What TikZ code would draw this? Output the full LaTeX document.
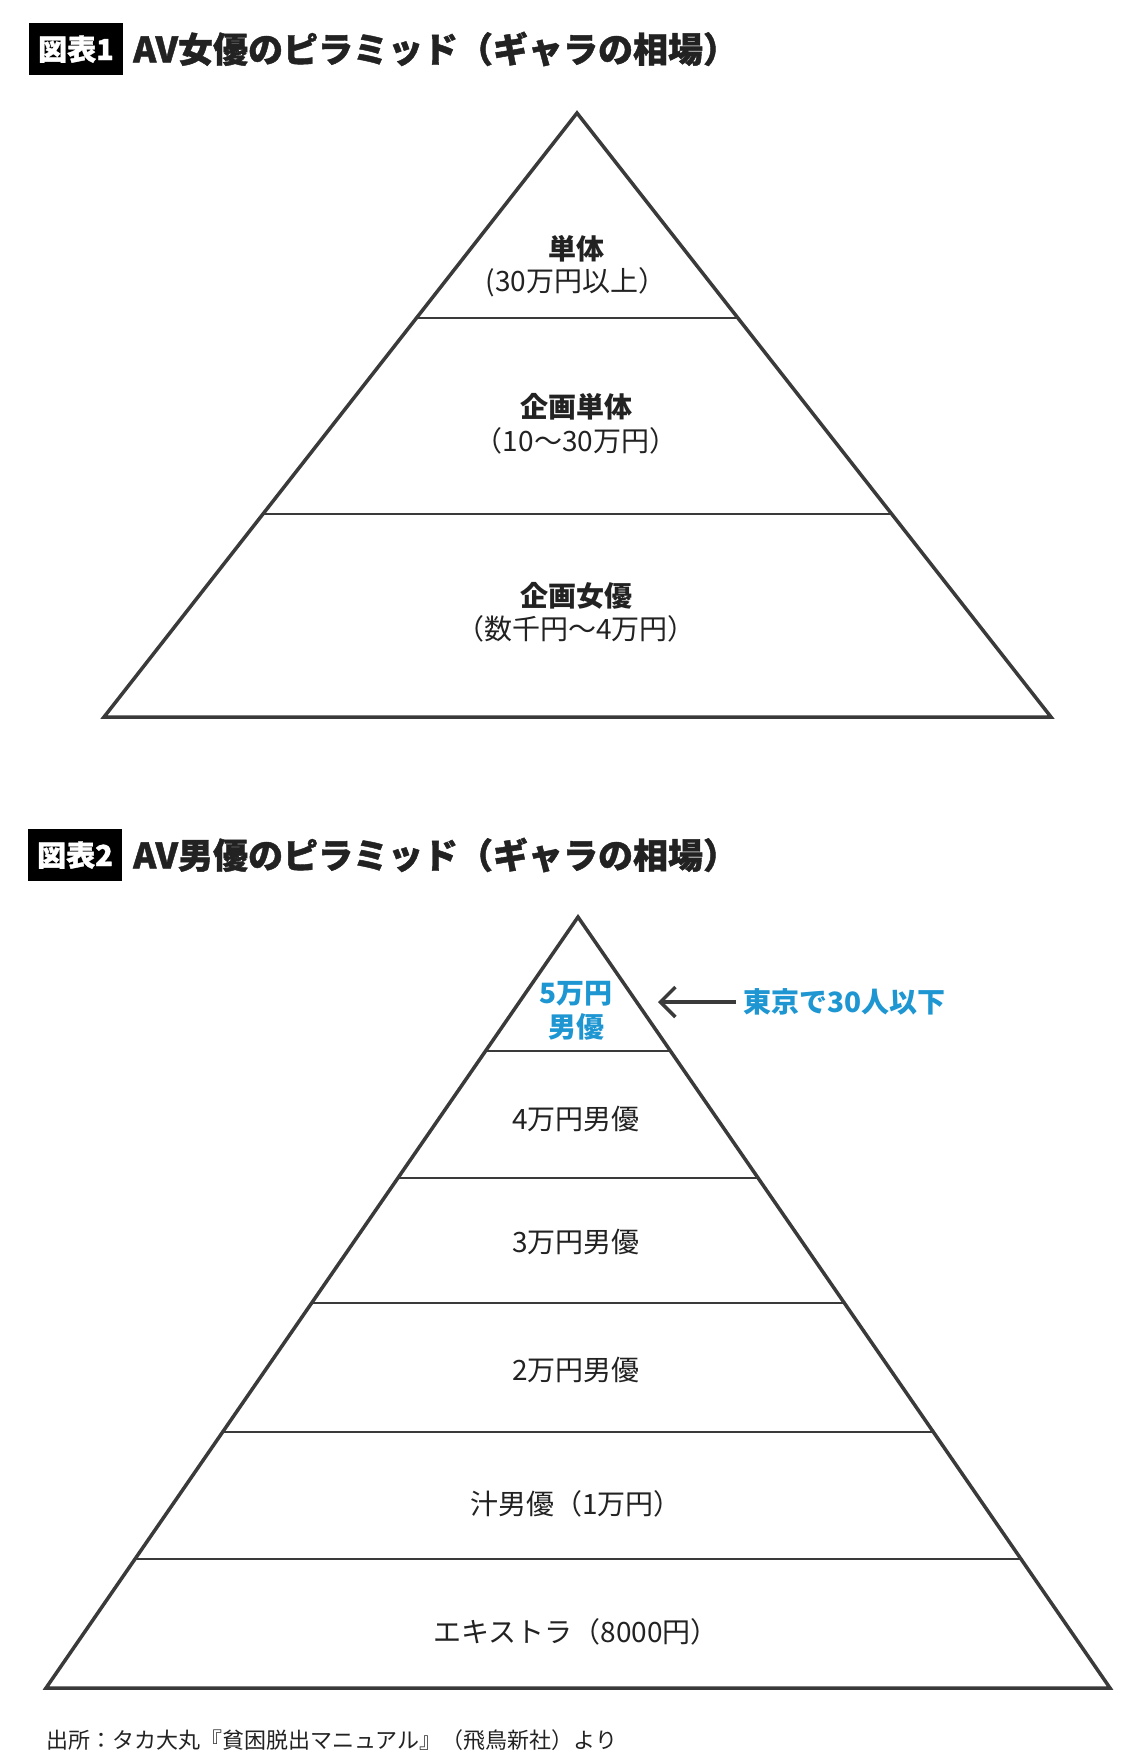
\documentclass[tikz,border=0pt]{standalone}
\usepackage{fontspec}
\setmainfont{Noto Sans CJK JP}
\newfontfamily\heavyjp{Noto Sans CJK JP}[BoldFeatures={FakeBold=1.2}]
\usetikzlibrary{arrows.meta,calc}
\definecolor{lc}{HTML}{3A3A3A}
\definecolor{blu}{HTML}{1D96D2}
\definecolor{txt}{HTML}{222222}
\begin{document}
\begin{tikzpicture}[x=1pt,y=-1pt,
  tri/.style={draw=lc,line width=3.5pt,line join=miter},
  div/.style={draw=lc,line width=2pt},
  lbl/.style={font=\fontsize{28}{32}\selectfont,text=txt,inner sep=0pt},
  lblb/.style={font=\fontsize{28}{32}\selectfont\bfseries,text=txt,inner sep=0pt},
  bluelbl/.style={font=\fontsize{28}{32}\selectfont\bfseries,text=blu,inner sep=0pt},
  tag/.style={fill=black,text=white,minimum width=94pt,minimum height=52pt,inner sep=0pt,font=\heavyjp\bfseries\fontsize{29}{29}\selectfont},
  ttl/.style={anchor=west,inner sep=0pt,font=\heavyjp\bfseries\fontsize{35}{35}\selectfont,text=txt},
  arr/.style={draw=lc,line width=3.5pt,-{Straight Barb[length=15pt,width=30pt,line width=3.5pt]}}
]
\useasboundingbox[fill=white] (0,0) rectangle (1140,1764);

% ---------- Figure 1 ----------
\node[tag] (b1) at (76,49) {図表1};
\node[ttl] (t1) at (133,49) {AV女優のピラミッド（ギャラの相場）};

\coordinate (A1) at (577,113);
\coordinate (L1) at (104,717);
\coordinate (R1) at (1051,717);
\draw[div] ($(A1)!0.3394!(L1)$) -- ($(A1)!0.3394!(R1)$);
\draw[div] ($(A1)!0.6639!(L1)$) -- ($(A1)!0.6639!(R1)$);
\draw[tri] (A1) -- (L1) -- (R1) -- cycle;

\node[lblb] (p1a) at (576,249) {単体};
\node[lbl]  (p1b) at (576,282) {(30万円以上）};
\node[lblb] (p1c) at (576,407) {企画単体};
\node[lbl]  (p1d) at (576,441) {（10〜30万円）};
\node[lblb] (p1e) at (576,596) {企画女優};
\node[lbl]  (p1f) at (576,629) {（数千円〜4万円）};

% ---------- Figure 2 ----------
\node[tag] (b2) at (75,855) {図表2};
\node[ttl] (t2) at (133,855) {AV男優のピラミッド（ギャラの相場）};

\coordinate (A2) at (578,917);
\coordinate (L2) at (46,1688);
\coordinate (R2) at (1110,1688);
\foreach \t in {0.1738,0.3385,0.5006,0.6680,0.8327}{
  \draw[div] ($(A2)!\t!(L2)$) -- ($(A2)!\t!(R2)$);
}
\draw[tri] (A2) -- (L2) -- (R2) -- cycle;

\node[bluelbl] (q1a) at (576,994) {5万円};
\node[bluelbl] (q1b) at (576,1027) {男優};
\node[lbl] (q2) at (576,1119) {4万円男優};
\node[lbl] (q3) at (576,1242) {3万円男優};
\node[lbl] (q4) at (576,1370) {2万円男優};
\node[lbl] (q5) at (576,1504) {汁男優（1万円）};
\node[lbl] (q6) at (576,1632) {エキストラ（8000円）};

\node[bluelbl,anchor=west] (tokyo) at (743,1002) {東京で30人以下};
\coordinate (tip) at (658,1002);
\draw[arr] ([xshift=-7pt]tokyo.west) -- (tip);

\node[anchor=west,inner sep=0pt,font=\fontsize{22}{22}\selectfont,text=txt] (src) at (46,1740) {出所：タカ大丸『貧困脱出マニュアル』（飛鳥新社）より};
\end{tikzpicture}
\end{document}
